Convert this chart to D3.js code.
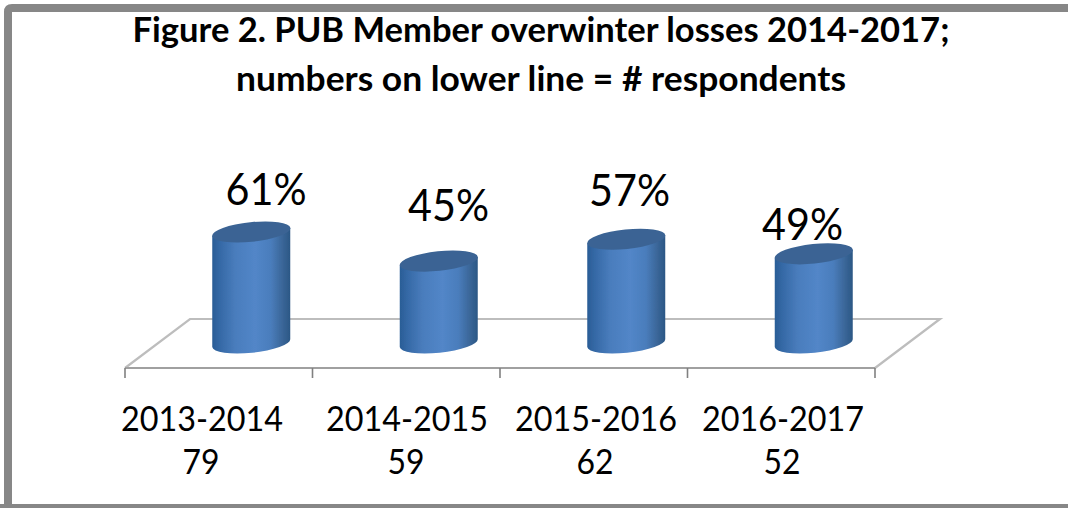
<!DOCTYPE html>
<html><head><meta charset="utf-8">
<script src="https://cdn.jsdelivr.net/npm/d3@7/dist/d3.min.js"></script>
<style>html,body{margin:0;padding:0;background:#fff}svg{display:block}text{font-family:Lato,Carlito,sans-serif;fill:#000}</style>
</head><body><svg id="c" width="1068" height="508"></svg>
<script>
const periods = ["2013-2014","2014-2015","2015-2016","2016-2017"];
const respondents = ["79","59","62","52"];
const losses = [61,45,57,49];
const titleLines = ["Figure 2. PUB Member overwinter losses 2014-2017;","numbers on lower line = # respondents"];

const W=1068,H=508;
const svg=d3.select("#c");
const defs=svg.append("defs");
const g=defs.append("linearGradient").attr("id","cyl").attr("x1",0).attr("x2",1).attr("y1",0).attr("y2",0);
[[0,"#2a5d96"],[.1,"#3569a6"],[.3,"#4a7dbd"],[.55,"#5286c8"],[.75,"#4a7dbc"],[.9,"#3a6698"],[1,"#2b5785"]]
 .forEach(([o,c])=>g.append("stop").attr("offset",o).attr("stop-color",c));
defs.append("filter").attr("id","soft").append("feGaussianBlur").attr("stdDeviation",0.5);

// frame
svg.append("path").attr("d",`M8 508 V12 Q8 8 12 8 H${W}`).attr("fill","none").attr("stroke","#878787").attr("stroke-width",8);
svg.append("rect").attr("x",0).attr("y",504).attr("width",W).attr("height",4).attr("fill","#878787");

// title
const titleW=[817,610];
svg.selectAll("text.title").data(titleLines).join("text").attr("class","title")
  .attr("x",541).attr("y",(d,i)=>[42,91][i]).attr("text-anchor","middle")
  .attr("font-size",35).attr("font-weight",700)
  .attr("textLength",(d,i)=>titleW[i]).attr("lengthAdjust","spacingAndGlyphs").text(d=>d);

// scales
const x=d3.scaleBand().domain(periods).range([125,875]);
const y=d3.scaleLinear().domain([0,100]).range([343,161]);
const depthX=65, depthY=49;
const barW=78, shift=depthX/2;
const rx=barW/2, ry=9.8, tilt=-6;

// floor
const fy=368;
const floor=svg.append("g").attr("fill","none").attr("filter","url(#soft)");
floor.append("path").attr("d",`M125 ${fy} L${125+depthX} ${fy-depthY} H${875+depthX} L875 ${fy}`)
  .attr("stroke","#bdbdbd").attr("stroke-width",2.2);
floor.append("path").attr("d",`M125 ${fy} H875`).attr("stroke","#a0a0a0").attr("stroke-width",2.2);
const tickVals=periods.map(p=>x(p)).concat([875]);
floor.selectAll("line").data(tickVals).join("line")
  .attr("x1",d=>d).attr("x2",d=>d).attr("y1",fy).attr("y2",fy+10).attr("stroke","#808080").attr("stroke-width",1.6);

// cylinders
const t=tilt*Math.PI/180, dy=rx*Math.sin(t);
const bars=svg.selectAll("g.bar").data(losses).join("g").attr("class","bar").attr("filter","url(#soft)");
bars.each(function(v,i){
  const gg=d3.select(this);
  const cx=x(periods[i])+x.bandwidth()/2+shift, yb=y(0), yt=y(v);
  gg.append("path")
    .attr("d",`M${cx-rx} ${yt-dy} L${cx-rx} ${yb-dy} A${rx} ${ry} ${tilt} 0 0 ${cx+rx} ${yb+dy} L${cx+rx} ${yt+dy} Z`)
    .attr("fill","url(#cyl)");
  gg.append("ellipse").attr("cx",cx).attr("cy",yt).attr("rx",rx+.3).attr("ry",ry)
    .attr("transform",`rotate(${tilt} ${cx} ${yt})`).attr("fill","#3b6494");
});

// data labels
const labelX=[266,448.5,629.5,802.5], labelY=[205,221,206,240];
svg.selectAll("text.val").data(losses).join("text").attr("class","val")
  .attr("x",(d,i)=>labelX[i]).attr("y",(d,i)=>labelY[i]).attr("text-anchor","middle")
  .attr("font-size",45).attr("textLength",81).attr("lengthAdjust","spacingAndGlyphs").text(d=>d+"%");

// axis labels
const catCx=[202,407,596,783];
svg.selectAll("text.cat").data(periods).join("text").attr("class","cat")
  .attr("x",(d,i)=>catCx[i]).attr("y",431).attr("text-anchor","middle").attr("font-size",35)
  .attr("textLength",162).attr("lengthAdjust","spacingAndGlyphs").text(d=>d);
svg.selectAll("text.n").data(respondents).join("text").attr("class","n")
  .attr("x",(d,i)=>catCx[i]-1).attr("y",474).attr("text-anchor","middle").attr("font-size",35)
  .attr("textLength",37).attr("lengthAdjust","spacingAndGlyphs").text(d=>d);
</script></body></html>
